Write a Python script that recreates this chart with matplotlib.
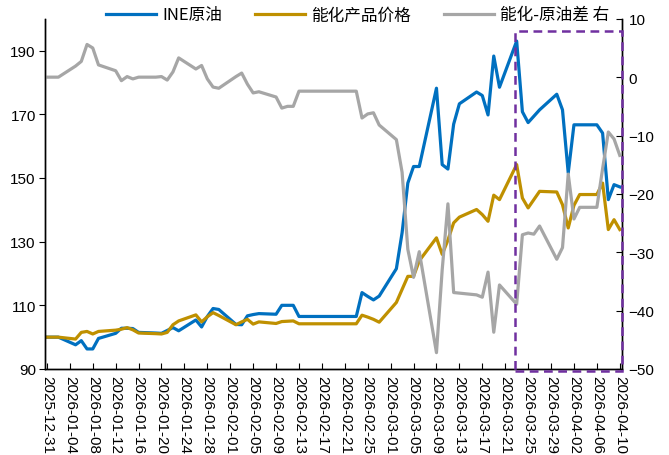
import matplotlib
matplotlib.use("Agg")
import matplotlib.pyplot as plt
import matplotlib.patches as patches
import matplotlib.dates as mdates
from matplotlib import font_manager
import pandas as pd

# trading-day series (weekdays, holidays forward-filled)
dates = pd.bdate_range("2025-12-31", "2026-04-10")

ine_crude = [100.0, 100.0, 100.0, 97.6, 98.9, 96.3, 96.3, 99.6,
             101.2, 102.8, 102.8, 102.7, 101.5,
             101.3, 101.2, 102.1, 103.0, 102.0,
             105.4, 103.2, 106.5, 109.0, 108.7,
             104.0, 103.9, 106.7, 107.1, 107.4,
             107.2, 110.0, 110.0, 110.0, 106.5,
             106.5, 106.5, 106.5, 106.5, 106.5,
             106.5, 114.0, 112.8, 111.7, 112.9,
             121.5, 132.8, 148.4, 153.6, 153.6,
             178.2, 154.2, 152.8, 166.9, 173.3,
             177.0, 175.9, 169.8, 188.3, 178.5,
             193.0, 170.8, 167.4, 169.4, 171.4,
             176.3, 171.4, 151.6, 166.7, 166.7,
             166.7, 164.1, 143.2, 147.9, 147.2]

chem_price = [100.0, 100.0, 100.0, 99.4, 101.5, 101.8, 101.0, 101.8,
              102.2, 102.5, 103.0, 102.3, 101.3,
              101.1, 101.0, 101.5, 103.9, 105.1,
              107.0, 104.8, 106.4, 107.7, 106.8,
              103.9, 104.8, 105.6, 104.1, 104.8,
              104.3, 104.9, 105.0, 105.1, 104.2,
              104.2, 104.2, 104.2, 104.2, 104.2,
              104.2, 106.9, 106.3, 105.6, 104.7,
              110.9, 115.0, 119.1, 119.1, 124.0,
              131.2, 126.0, 130.5, 135.9, 137.7,
              140.1, 138.5, 136.4, 144.6, 143.2,
              154.2, 143.7, 140.6, 143.2, 145.8,
              145.6, 141.6, 134.3, 141.4, 144.8,
              144.8, 148.4, 133.8, 136.9, 133.8]

chem_minus_crude = [0.0, 0.0, 0.0, 1.9, 2.7, 5.6, 5.0, 2.1,
                    1.1, -0.6, 0.1, -0.3, 0.0,
                    0.0, 0.1, -0.5, 0.9, 3.3,
                    1.4, 2.0, -0.3, -1.7, -1.9,
                    0.1, 0.7, -1.2, -2.7, -2.5,
                    -3.4, -5.3, -5.0, -5.0, -2.4,
                    -2.4, -2.4, -2.4, -2.4, -2.4,
                    -2.4, -7.0, -6.3, -6.1, -8.2,
                    -10.7, -16.3, -29.5, -34.3, -29.9,
                    -47.2, -33.0, -21.7, -36.9, -37.0,
                    -37.3, -37.7, -33.4, -43.7, -35.6,
                    -38.9, -27.0, -26.7, -26.9, -25.5,
                    -31.2, -29.2, -16.6, -24.3, -22.3,
                    -22.3, -15.7, -9.4, -10.6, -13.4]

label_dates = pd.date_range("2025-12-31", "2026-04-10", freq="4D")
left_ticks = [90, 110, 130, 150, 170, 190]
right_ticks = [-50, -40, -30, -20, -10, 0, 10]
series_names = ["INE原油", "能化产品价格", "能化-原油差 右"]
highlight_start = pd.Timestamp("2026-03-23")

installed = {f.name for f in font_manager.fontManager.ttflist}
tick_font = "Liberation Sans Narrow" if "Liberation Sans Narrow" in installed else "Liberation Sans"
cjk_font = ["Noto Sans CJK SC", "DejaVu Sans"]

fig = plt.figure(figsize=(6.69, 4.56), dpi=100)
ax = fig.add_axes([0.068, 0.1886, 0.861, 0.768])
ax2 = ax.twinx()

l1, = ax.plot(dates, ine_crude, color="#0070C0", lw=2.3, solid_joinstyle="round")
l2, = ax.plot(dates, chem_price, color="#BF9000", lw=2.3, solid_joinstyle="round")
l3, = ax2.plot(dates, chem_minus_crude, color="#A6A6A6", lw=2.3, solid_joinstyle="round")

x0 = mdates.date2num(pd.Timestamp("2025-12-31")) - 0.25
x1 = mdates.date2num(pd.Timestamp("2026-04-10")) + 0.3
ax.set_xlim(x0, x1)
ax.set_ylim(90, 200)
ax2.set_ylim(-50, 10)

ax.set_xticks(label_dates)
ax.set_xticklabels([d.strftime("%Y-%m-%d") for d in label_dates], rotation=270,
                   fontfamily=tick_font, fontsize=11)
ax.set_yticks(left_ticks)
ax.set_yticklabels([str(v) for v in left_ticks], fontfamily=tick_font, fontsize=11)
ax2.set_yticks(right_ticks)
ax2.set_yticklabels([str(v).replace("-", "\u2212") for v in right_ticks],
                    fontfamily=tick_font, fontsize=11)

ax.tick_params(axis="x", direction="in", length=4, pad=4)
ax.tick_params(axis="y", direction="out", length=4, pad=3)
ax2.tick_params(axis="y", direction="in", length=4, pad=5)

for a in (ax, ax2):
    a.spines["top"].set_visible(False)
    for s in a.spines.values():
        s.set_color("black")
        s.set_linewidth(1.0)

# purple dashed highlight box
hx = mdates.date2num(highlight_start) - 0.3
box = patches.Rectangle((hx, 89.5), x1 - hx, 196.2 - 89.5, fill=False,
                        edgecolor="#7030A0", lw=1.8, linestyle=(0, (3.5, 2.2)),
                        clip_on=False, zorder=10)
ax2.add_patch(box)
box.set_transform(ax.transData)

fig.legend([l1, l2, l3], series_names, loc="center", bbox_to_anchor=(0.535, 0.965),
           ncol=3, frameon=False, prop={"family": cjk_font, "size": 12},
           handlelength=3.0, handletextpad=0.35, columnspacing=2.0)

fig.savefig("out.png", dpi=100)
